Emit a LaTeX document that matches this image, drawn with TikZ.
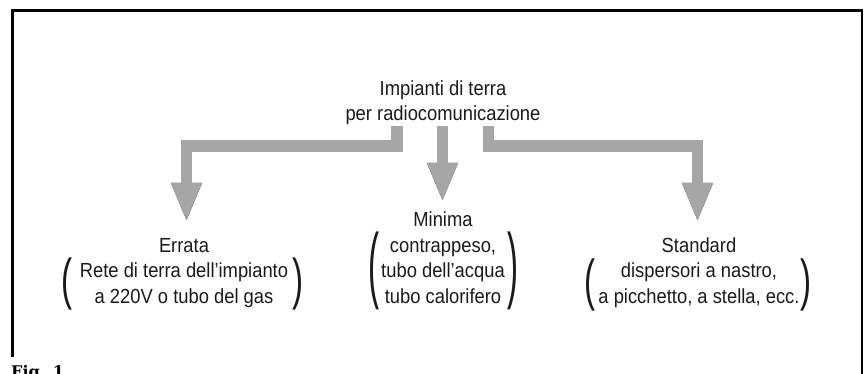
\documentclass[tikz,border=0pt]{standalone}
\usepackage{fontspec}
\setmainfont[FakeStretch=0.9]{Liberation Sans}
\newfontfamily\figfont{DejaVu Serif}
\usetikzlibrary{
  positioning,
  calc
}
\definecolor{pipegray}{HTML}{A6A6A6}
\definecolor{inkblack}{HTML}{1A1A1A}

\tikzset{
  pics/gndhead/.style={
    code={\fill (-15.5,-37) -- (15.5,-37) -- (0,0) -- cycle;}
  }
}

\begin{document}
\begin{tikzpicture}[
  x=1pt, y=-1pt,
  caption/.style={
    align=center, inner sep=0pt, anchor=base,
    font=\fontsize{20.4}{25.5}\selectfont, text=inkblack
  },
  paren/.style={
    inner sep=0pt, font=\fontsize{20.4}{25}\selectfont, text=inkblack
  },
  pipe/.style={
    draw=pipegray, line width=11.5pt, line join=miter, line cap=butt
  },
  pipeshadow/.style={
    draw=black, line width=11.5pt, line join=miter, line cap=butt
  },
  frame/.style={
    draw=black, line width=2.4pt, line join=miter
  },
  figlabel/.style={
    inner sep=0pt, font=\figfont\bfseries\fontsize{16}{18}\selectfont
  }
]
\useasboundingbox (0,0) rectangle (865,374);

% Frame, open at the bottom
\draw[frame] (12.5,357) -- (12.5,10.5) -- (862,10.5) -- (862,374);

% Title (base = last line)
\node[caption] (title) at (443,121) {Impianti di terra\\per radiocomunicazione};

% The three kinds of earthing
\node[caption] (errata) at (184,303)
  {Errata\\Rete di terra dell’impianto\\a 220V o tubo del gas};
\node[caption] (minima) at (443,303)
  {Minima\\contrappeso,\\tubo dell’acqua\\tubo calorifero};
\node[caption] (standard) at (699,303)
  {Standard\\dispersori a nastro,\\a picchetto, a stella, ecc.};

% Brackets
\node[paren] (errataL) at (67,284) {\scalebox{1.8}[2.75]{(}};
\node[paren] (errataR) at (298,284) {\scalebox{1.8}[2.75]{)}};
\node[paren] (minimaL) at (374,271) {\scalebox{1.8}[4.1]{(}};
\node[paren] (minimaR) at (513,271) {\scalebox{1.8}[4.1]{)}};
\node[paren] (standardL) at (590,285) {\scalebox{1.8}[2.75]{(}};
\node[paren] (standardR) at (806,285) {\scalebox{1.8}[2.75]{)}};

% Arrow ends
\coordinate (srcL) at (397,126);
\coordinate (srcM) at (442.5,126);
\coordinate (srcR) at (488.5,126);
\coordinate (tipL) at (186.5,220);
\coordinate (tipM) at (442.5,200);
\coordinate (tipR) at (697.5,220);

% Left arrow
\begin{scope}[shift={(1.5,1.5)}]
  \draw[pipeshadow] (srcL) -- ++(0,20) -| ($(tipL)+(0,-37)$);
  \pic[fill=black] at (tipL) {gndhead};
\end{scope}
\draw[pipe] (srcL) -- ++(0,20) -| ($(tipL)+(0,-37)$);
\pic[fill=pipegray] at (tipL) {gndhead};

% Middle arrow
\begin{scope}[shift={(-1.5,1)}]
  \draw[pipeshadow] (srcM) -- ($(tipM)+(0,-35)$);
  \pic[fill=black] at (tipM) {gndhead};
\end{scope}
\draw[pipe] (srcM) -- ($(tipM)+(0,-35)$);
\pic[fill=pipegray] at (tipM) {gndhead};

% Right arrow
\begin{scope}[shift={(-1.5,1.5)}]
  \draw[pipeshadow] (srcR) -- ++(0,20) -| ($(tipR)+(0,-37)$);
  \pic[fill=black] at (tipR) {gndhead};
\end{scope}
\draw[pipe] (srcR) -- ++(0,20) -| ($(tipR)+(0,-37)$);
\pic[fill=pipegray] at (tipR) {gndhead};

% Figure number
\node[figlabel, anchor=base west] (figno) at (11,377) {Fig. 1};

\end{tikzpicture}
\end{document}
